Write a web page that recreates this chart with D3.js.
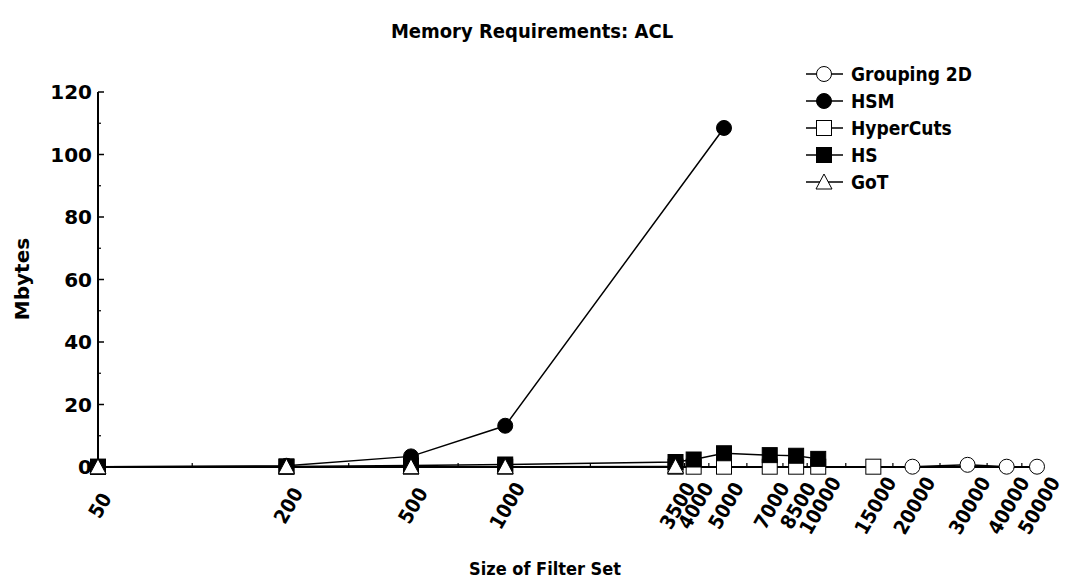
<!DOCTYPE html>
<html><head><meta charset="utf-8">
<script src="https://cdn.jsdelivr.net/npm/d3@7"></script>
<style>
body{margin:0;background:#fff;}
svg{display:block;}
text{font-family:"DejaVu Sans",sans-serif;font-weight:bold;fill:#000;}
.cond{font-family:"DejaVu Sans Condensed","DejaVu Sans",sans-serif;}
</style></head><body>
<svg id="chart" width="1065" height="583"></svg>
<script>
const xTicks = [50, 200, 500, 1000, 3500, 4000, 5000, 7000, 8500, 10000, 15000, 20000, 30000, 40000, 50000];
const yTicks = [0, 20, 40, 60, 80, 100, 120];
const seriesNames = ["Grouping 2D", "HSM", "HyperCuts", "HS", "GoT"];
const grouping2dX = [20000, 30000, 40000, 50000];
const grouping2dY = [0.1, 0.7, 0.1, 0.1];
const hsmX = [50, 200, 500, 1000, 5000];
const hsmY = [0.1, 0.4, 3.4, 13.2, 108.5];
const hyperCutsX = [50, 200, 500, 1000, 3500, 4000, 5000, 7000, 8500, 10000, 15000];
const hyperCutsY = [0.05, 0.05, 0.1, 0.1, 0.1, 0.1, 0.1, 0.1, 0.1, 0.1, 0.1];
const hsX = [50, 200, 500, 1000, 3500, 4000, 5000, 7000, 8500, 10000];
const hsY = [0.1, 0.2, 0.5, 0.8, 1.6, 2.4, 4.4, 3.8, 3.6, 2.6];
const gotX = [50, 200, 500, 1000, 3500];
const gotY = [0.05, 0.1, 0.1, 0.1, 0.2];

const svg = d3.select("#chart");
const x = d3.scaleLog().domain([50, 50000]).range([98, 1037]);
const y = d3.scaleLinear().domain([0, 120]).range([467, 92]);

// title
svg.append("text").attr("class", "cond").attr("x", 532).attr("y", 38).attr("text-anchor", "middle")
  .style("font-size", "20px").text("Memory Requirements: ACL");

// y axis
const yAxis = svg.append("g");
yAxis.append("line").attr("x1", 98).attr("x2", 98).attr("y1", y(120)).attr("y2", y(0))
  .attr("stroke", "#000").attr("stroke-width", 2);
yTicks.forEach(v => {
  yAxis.append("line").attr("x1", 98).attr("x2", 104).attr("y1", y(v)).attr("y2", y(v)).attr("stroke", "#000").attr("stroke-width", 1.5);
  yAxis.append("text").attr("x", 92).attr("y", y(v)).attr("dy", "0.36em").attr("text-anchor", "end")
    .style("font-size", "20px").text(v);
});
for (let i = 0; i < yTicks.length - 1; i++) {
  const v = (yTicks[i] + yTicks[i + 1]) / 2;
  yAxis.append("line").attr("x1", 98).attr("x2", 101).attr("y1", y(v)).attr("y2", y(v)).attr("stroke", "#000").attr("stroke-width", 1.2);
}
svg.append("text").attr("transform", `translate(29,279) rotate(-90)`).attr("text-anchor", "middle")
  .style("font-size", "20px").text("Mbytes");

// x axis
const xAxis = svg.append("g");
xAxis.append("line").attr("x1", 98).attr("x2", 1037).attr("y1", y(0)).attr("y2", y(0))
  .attr("stroke", "#000").attr("stroke-width", 2);
xTicks.forEach(v => {
  xAxis.append("line").attr("x1", x(v)).attr("x2", x(v)).attr("y1", y(0)).attr("y2", y(0) - 7).attr("stroke", "#000").attr("stroke-width", 1.5);
  xAxis.append("text").attr("class", "cond").attr("transform", `translate(${x(v) + 8},${y(0) + 42}) rotate(-60)`)
    .attr("text-anchor", "middle")
    .style("font-size", "20px").text(v);
});
for (let i = 0; i < xTicks.length - 1; i++) {
  const v = Math.sqrt(xTicks[i] * xTicks[i + 1]);
  xAxis.append("line").attr("x1", x(v)).attr("x2", x(v)).attr("y1", y(0)).attr("y2", y(0) - 4).attr("stroke", "#000").attr("stroke-width", 1.2);
}
svg.append("text").attr("class", "cond").attr("x", 545).attr("y", 575).attr("text-anchor", "middle")
  .style("font-size", "18px").text("Size of Filter Set");

const series = [
  {name: seriesNames[0], xs: grouping2dX, ys: grouping2dY, shape: "circle", fill: "#fff"},
  {name: seriesNames[1], xs: hsmX, ys: hsmY, shape: "circle", fill: "#000"},
  {name: seriesNames[2], xs: hyperCutsX, ys: hyperCutsY, shape: "square", fill: "#fff"},
  {name: seriesNames[3], xs: hsX, ys: hsY, shape: "square", fill: "#000"},
  {name: seriesNames[4], xs: gotX, ys: gotY, shape: "triangle", fill: "#fff"}
];

function drawMarker(g, shape, fill, cx, cy) {
  if (shape === "circle") {
    g.append("circle").attr("cx", cx).attr("cy", cy).attr("r", 7.5).attr("fill", fill).attr("stroke", "#000").attr("stroke-width", 1);
  } else if (shape === "square") {
    g.append("rect").attr("x", cx - 7.5).attr("y", cy - 7.5).attr("width", 15).attr("height", 15).attr("fill", fill).attr("stroke", "#000").attr("stroke-width", 1);
  } else {
    g.append("path").attr("d", `M${cx},${cy - 8}L${cx + 8},${cy + 7}L${cx - 8},${cy + 7}Z`).attr("fill", fill).attr("stroke", "#000").attr("stroke-width", 1);
  }
}

const line = d3.line().x(d => x(d[0])).y(d => y(d[1]));
series.forEach(s => {
  const g = svg.append("g");
  const pts = s.xs.map((v, i) => [v, s.ys[i]]);
  g.append("path").attr("d", line(pts)).attr("fill", "none").attr("stroke", "#000").attr("stroke-width", 1.5);
  pts.forEach(p => drawMarker(g, s.shape, s.fill, x(p[0]), y(p[1])));
});

// legend
series.forEach((s, i) => {
  const ly = 74 + i * 27;
  const g = svg.append("g");
  g.append("line").attr("x1", 806).attr("x2", 843).attr("y1", ly).attr("y2", ly).attr("stroke", "#000").attr("stroke-width", 1.5);
  drawMarker(g, s.shape, s.fill, 824, ly);
  g.append("text").attr("class", "cond").attr("x", 851).attr("y", ly).attr("dy", "0.36em").style("font-size", "19px").text(s.name);
});
</script>
</body></html>
